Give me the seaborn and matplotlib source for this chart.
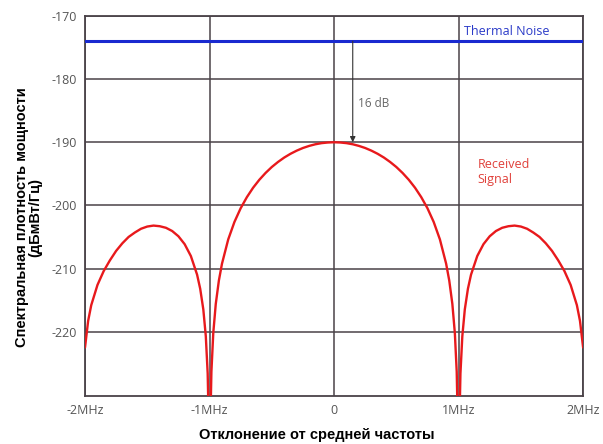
import numpy as np
import pandas as pd
import seaborn as sns
import matplotlib.pyplot as plt

# frequency offset, MHz
freq = [-2.0, -1.975, -1.95, -1.9, -1.85, -1.8, -1.75, -1.7, -1.65, -1.6, -1.55, -1.5, -1.45, -1.4,
        -1.35, -1.3, -1.25, -1.2, -1.15, -1.1, -1.075, -1.05, -1.03, -1.015, -1.005, -1.0,
        -0.995, -0.985, -0.97, -0.95, -0.925, -0.9, -0.85, -0.8, -0.75, -0.7, -0.65, -0.6, -0.55,
        -0.5, -0.45, -0.4, -0.35, -0.3, -0.25, -0.2, -0.15, -0.1, -0.05, 0.0,
        0.05, 0.1, 0.15, 0.2, 0.25, 0.3, 0.35, 0.4, 0.45, 0.5, 0.55, 0.6, 0.65, 0.7, 0.75, 0.8,
        0.85, 0.9, 0.925, 0.95, 0.97, 0.985, 0.995, 1.0,
        1.005, 1.015, 1.03, 1.05, 1.075, 1.1, 1.15, 1.2, 1.25, 1.3, 1.35, 1.4, 1.45, 1.5, 1.55,
        1.6, 1.65, 1.7, 1.75, 1.8, 1.85, 1.9, 1.95, 1.975, 2.0]
# received signal PSD, dBm/Hz
psd = [-222.5, -218.3, -215.8, -212.6, -210.4, -208.7, -207.2, -206.0, -205.0, -204.3,
       -203.7, -203.35, -203.2, -203.3, -203.55, -204.06, -204.89, -206.14, -208.02, -210.97,
       -213.21, -216.48, -220.73, -226.61, -236.06, -250.0,
       -235.98, -226.35, -220.21, -215.61, -211.90, -209.23, -205.39, -202.62, -200.45, -198.69,
       -197.20, -195.94, -194.86, -193.92, -193.12, -192.42, -191.83, -191.33, -190.91, -190.58,
       -190.32, -190.14, -190.04, -190.0,
       -190.04, -190.14, -190.32, -190.58, -190.91, -191.33, -191.83, -192.42, -193.12, -193.92,
       -194.86, -195.94, -197.20, -198.69, -200.45, -202.62, -205.39, -209.23, -211.90, -215.61,
       -220.21, -226.35, -235.98, -250.0,
       -236.06, -226.61, -220.73, -216.48, -213.21, -210.97, -208.02, -206.14, -204.89, -204.06,
       -203.55, -203.3, -203.2, -203.35, -203.7, -204.3, -205.0, -206.0, -207.2, -208.7,
       -210.4, -212.6, -215.8, -218.3, -222.5]
noise_floor = -174
xticks_pos = [-2, -1, 0, 1, 2]
xtick_labels = ['-2MHz', '-1MHz', '0', '1MHz', '2MHz']
yticks_pos = [-170, -180, -190, -200, -210, -220]

df = pd.DataFrame({'f': freq, 'psd': psd})

sns.set_style("white")
plt.rcParams['font.family'] = ['Open Sans', 'DejaVu Sans']
plt.rcParams['axes.unicode_minus'] = False

fig = plt.figure(figsize=(6.03, 4.44), dpi=100)
ax = fig.add_axes([0.141, 0.108, 0.826, 0.856])

grid_col = '#4a4248'
for x in xticks_pos:
    ax.axvline(x, color=grid_col, lw=1.1, zorder=1)
for y in yticks_pos:
    ax.axhline(y, color=grid_col, lw=1.1, zorder=1)

sns.lineplot(data=df, x='f', y='psd', color='#e8191c', lw=1.7, ax=ax, zorder=3)
ax.axhline(noise_floor, color='#1a2ad0', lw=2.2, zorder=4)

ax.annotate('', xy=(0.15, -190), xytext=(0.15, noise_floor),
            arrowprops=dict(arrowstyle='-|>', color='#333333', lw=0.8,
                            mutation_scale=8, shrinkA=0, shrinkB=0), zorder=5)
ax.text(0.19, -183.8, '16 dB', color='#666666', fontsize=8.5, va='center')
ax.text(1.04, -172.4, 'Thermal Noise', color='#2a3ac8', fontsize=9, va='center')
ax.text(1.15, -194.7, 'Received\nSignal', color='#e0403a', fontsize=9, va='center',
        linespacing=1.15)

ax.set_xlim(-2, 2)
ax.set_ylim(-230.2, -170)
ax.set_xticks(xticks_pos)
ax.set_xticklabels(xtick_labels)
ax.set_yticks(yticks_pos)
ax.tick_params(colors='#555555', labelsize=9, length=0, pad=6)
for s in ax.spines.values():
    s.set_color(grid_col)
    s.set_linewidth(1.3)

ax.set_xlabel('Отклонение от средней частоты', fontsize=10.5, fontweight='bold',
              family='Liberation Sans', color='black')
ax.set_ylabel('Спектральная плотность мощности\n(дБмВт/Гц)', fontsize=10.5,
              fontweight='bold', family='Liberation Sans', color='black', linespacing=1.0)
ax.xaxis.set_label_coords(0.465, -0.085)
ax.yaxis.set_label_coords(-0.085, 0.47)

fig.savefig('out.png', dpi=100)
